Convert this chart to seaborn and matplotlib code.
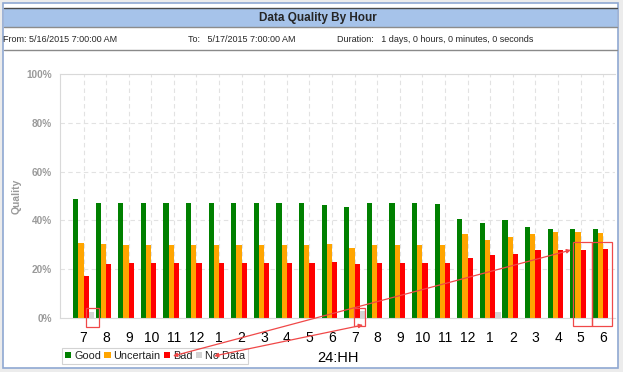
import numpy as np
import pandas as pd
import matplotlib.pyplot as plt
import seaborn as sns
from matplotlib.patches import Rectangle
from matplotlib.lines import Line2D
from matplotlib.transforms import ScaledTranslation

# --- data (percent of samples per hour, 5/16/2015 7:00 AM -> 5/17/2015 7:00 AM)
hours = ["7", "8", "9", "10", "11", "12", "1", "2", "3", "4", "5", "6",
         "7", "8", "9", "10", "11", "12", "1", "2", "3", "4", "5", "6"]
good = [48.9, 47.1, 47.1, 47.1, 47.1, 47.1, 47.1, 47.1, 47.1, 47.1, 47.1, 46.3,
        45.6, 47.1, 47.1, 47.1, 46.9, 40.6, 39.1, 40.3, 37.3, 36.6, 36.6, 36.3]
uncertain = [30.9, 30.2, 29.8, 29.8, 29.8, 29.8, 29.8, 29.8, 29.8, 29.8, 29.8, 30.2,
             28.8, 29.9, 29.9, 29.9, 30.1, 34.3, 32.1, 33.1, 34.3, 35.2, 35.1, 34.8]
bad = [17.1, 22.0, 22.5, 22.5, 22.5, 22.5, 22.5, 22.5, 22.5, 22.5, 22.7, 23.0,
       22.1, 22.5, 22.5, 22.5, 22.7, 24.7, 25.7, 26.4, 27.9, 27.9, 28.0, 28.3]
no_data = [2.5, 0, 0, 0, 0, 0, 0, 0, 0, 0, 0, 0,
           2.7, 0, 0, 0, 0, 0, 2.3, 0, 0, 0, 0, 0]
status = ["Good", "Uncertain", "Bad", "No Data"]
colors = ["#008000", "#FFA500", "#FF0000", "#D3D3D3"]

df = pd.DataFrame({"slot": range(len(hours)), "Good": good, "Uncertain": uncertain,
                   "Bad": bad, "No Data": no_data})
df = df.melt(id_vars="slot", var_name="status", value_name="quality")

W, H = 623, 372
sns.set_style("white")
plt.rcParams["font.family"] = ["Liberation Sans", "DejaVu Sans"]

fig = plt.figure(figsize=(W / 100, H / 100), dpi=100, facecolor="#ECECEC")


def px(x, y):
    # screen pixels (top-left origin) -> figure fraction
    return x / W, 1 - y / H


def frame_rect(x0, y0, x1, y1, **kw):
    fig.add_artist(Rectangle(px(x0, y1), (x1 - x0) / W, (y1 - y0) / H,
                             transform=fig.transFigure, **kw))


def frame_line(y, x0, x1, **kw):
    fig.add_artist(Line2D([x0 / W, x1 / W], [1 - y / H] * 2,
                          transform=fig.transFigure, **kw))


# report panel
frame_rect(3, 3, 618, 368, facecolor="white", edgecolor="#8FA8D2", lw=1.2, zorder=-5)
frame_rect(4, 8, 617, 27, facecolor="#A6C3EA", edgecolor="none", zorder=-4)
frame_line(8, 4, 617, color="#4A4A4A", lw=1, zorder=-3)
frame_line(27, 4, 617, color="#8C8C8C", lw=1, zorder=-3)
frame_line(49.5, 4, 617, color="#8A8A8A", lw=1, zorder=-3)

fig.text(*px(318, 17.5), "Data Quality By Hour", ha="center", va="center",
         fontsize=8.5, fontweight="bold")
fig.text(*px(3, 40), "From: 5/16/2015 7:00:00 AM", va="center", fontsize=6.5)
fig.text(*px(188, 40), "To:   5/17/2015 7:00:00 AM", va="center", fontsize=6.5)
fig.text(*px(337, 40), "Duration:   1 days, 0 hours, 0 minutes, 0 seconds",
         va="center", fontsize=6.5)

ax = fig.add_axes([60 / W, 1 - 318 / H, (615 - 60) / W, (318 - 74) / H])
sns.barplot(data=df, x="slot", y="quality", hue="status", hue_order=status,
            palette=colors, saturation=1, width=0.92, linewidth=0,
            errorbar=None, ax=ax)

ax.set_xlim(-1.04, 23.52)
ax.set_ylim(0, 100)
ax.set_xticks(range(len(hours)))
ax.set_xticklabels(hours, fontsize=10, color="black")
shift = ScaledTranslation(6 / 100, 0, fig.dpi_scale_trans)
for lab in ax.get_xticklabels():
    lab.set_transform(lab.get_transform() + shift)
ax.set_yticks(range(0, 101, 20))
ax.set_yticklabels([f"{v}%" for v in range(0, 101, 20)], fontsize=7.2,
                   color="#9A9A9A", fontweight="bold")
ax.tick_params(axis="both", length=3, color="#D9D9D9")
ax.tick_params(axis="x", pad=6)
ax.tick_params(axis="y", pad=3)

ax.grid(True, color="#E2E2E2", linestyle=(0, (4, 3)), lw=0.8)
ax.set_axisbelow(True)
for side in ["top", "left", "bottom"]:
    ax.spines[side].set_color("#D9D9D9")
ax.spines["right"].set_visible(False)

ax.set_ylabel("Quality", fontsize=7.5, color="#9A9A9A", fontweight="bold", labelpad=3)
ax.set_xlabel("24:HH", fontsize=10.5, color="black", labelpad=5)

leg = ax.legend(loc="upper left", bbox_to_anchor=px(60, 346), bbox_transform=fig.transFigure,
                ncol=4, fontsize=7.8, handlelength=0.6, handleheight=0.6,
                handletextpad=0.25, columnspacing=0.3, borderpad=0.25,
                borderaxespad=0.2, frameon=True, fancybox=False, edgecolor="#C8C8C8")
leg.get_frame().set_linewidth(0.8)
for t in leg.get_texts():
    t.set_color("#222222")

# red call-outs
red = "#F04848"
for x0, x1, y0, y1 in [(0.11, 0.69, -3.6, 4.2), (11.97, 12.46, -3.3, 4.2),
                       (21.65, 22.49, -3.2, 31), (22.49, 23.37, -3.2, 31)]:
    ax.add_patch(Rectangle((x0, y0), x1 - x0, y1 - y0, fill=False, edgecolor=red,
                           lw=0.9, clip_on=False, zorder=10))
for a, b in [((173, 356), (571, 250)), ((214, 356), (363, 325))]:
    ax.annotate("", xy=px(*b), xytext=px(*a), xycoords="figure fraction",
                textcoords="figure fraction", annotation_clip=False, zorder=11,
                arrowprops=dict(arrowstyle="<|-|>", color=red, lw=0.9,
                                mutation_scale=6, shrinkA=0, shrinkB=0))

fig.savefig("out.png", dpi=100, facecolor=fig.get_facecolor())
